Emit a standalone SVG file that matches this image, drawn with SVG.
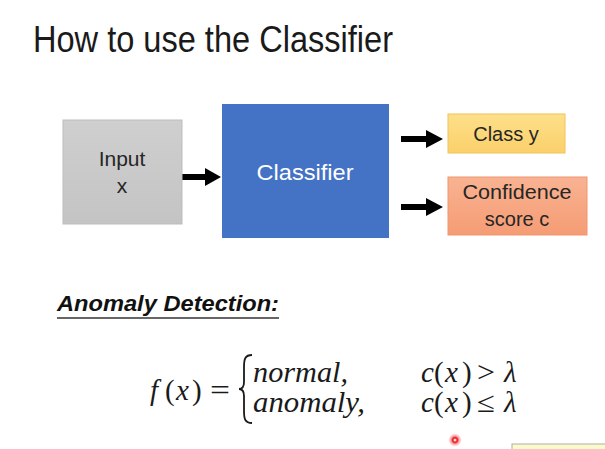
<svg xmlns="http://www.w3.org/2000/svg" width="605" height="449" viewBox="0 0 605 449">
<defs>
<style>
.t{font-family:"Liberation Sans",Arial,sans-serif;}
.m{font-family:"Liberation Serif","DejaVu Serif",serif;font-style:italic;font-size:29px;fill:#1a1a1a;}
.mu{font-family:"Liberation Serif","DejaVu Serif",serif;font-size:29px;fill:#1a1a1a;}
.arr{fill:#000;}
</style>
<linearGradient id="gGray" x1="0" y1="0" x2="0" y2="1">
<stop offset="0" stop-color="#cfcfcf"/><stop offset="1" stop-color="#c4c4c4"/>
</linearGradient>
<linearGradient id="gYel" x1="0" y1="0" x2="0" y2="1">
<stop offset="0" stop-color="#fde08a"/><stop offset="1" stop-color="#fbd06a"/>
</linearGradient>
<linearGradient id="gOr" x1="0" y1="0" x2="0" y2="1">
<stop offset="0" stop-color="#f9b392"/><stop offset="1" stop-color="#f59c74"/>
</linearGradient>
<radialGradient id="gDot">
<stop offset="0.35" stop-color="#e8202a"/><stop offset="0.6" stop-color="#f06a6a" stop-opacity="0.6"/><stop offset="1" stop-color="#ff9999" stop-opacity="0"/>
</radialGradient>
</defs>
<rect width="605" height="449" fill="#ffffff"/>

<text class="t" x="33" y="52" font-size="36" fill="#1a1a1a" textLength="360" lengthAdjust="spacingAndGlyphs">How to use the Classifier</text>

<g id="connectors">
<path class="arr" d="M182,174 L205,174 L205,168 L221,177 L205,186 L205,180 L182,180 Z"/>
<path class="arr" d="M401,136 L426,136 L426,130 L443,139 L426,148 L426,142 L401,142 Z"/>
<path class="arr" d="M401,204 L426,204 L426,198 L443,207 L426,216 L426,210 L401,210 Z"/>
</g>

<g id="input">
<rect x="63" y="120" width="119" height="104" fill="url(#gGray)" stroke="#bdbdbd" stroke-width="1"/>
<text class="t" x="122" y="166" font-size="21" fill="#262626" text-anchor="middle">Input</text>
<text class="t" x="122" y="193" font-size="21" fill="#262626" text-anchor="middle">x</text>
</g>

<g id="classifier">
<rect x="222" y="104" width="167" height="134" fill="#4472c4"/>
<text class="t" x="305" y="180" font-size="22" fill="#ffffff" text-anchor="middle" textLength="97" lengthAdjust="spacingAndGlyphs">Classifier</text>
</g>

<g id="classy">
<rect x="448" y="114" width="117" height="39" fill="url(#gYel)" stroke="#f2c25c" stroke-width="1"/>
<text class="t" x="506" y="141" font-size="20" fill="#262626" text-anchor="middle">Class y</text>
</g>

<g id="confidence">
<rect x="448" y="177" width="139" height="58" fill="url(#gOr)" stroke="#ef9670" stroke-width="1"/>
<text class="t" x="517" y="199" font-size="20" fill="#262626" text-anchor="middle" textLength="109" lengthAdjust="spacingAndGlyphs">Confidence</text>
<text class="t" x="517" y="226" font-size="20" fill="#262626" text-anchor="middle">score c</text>
</g>

<text class="t" x="57" y="311" font-size="22" font-weight="bold" font-style="italic" fill="#111" textLength="222" lengthAdjust="spacingAndGlyphs">Anomaly Detection:</text>
<line x1="57" y1="318" x2="279" y2="318" stroke="#333" stroke-width="1.5"/>

<g id="formula">
<text class="m" x="150" y="400">f</text>
<text class="mu" x="165" y="400">(</text>
<text class="m" x="176" y="400">x</text>
<text class="mu" x="192" y="400">)</text>
<text class="mu" x="210" y="400" textLength="20" lengthAdjust="spacingAndGlyphs">=</text>
<path d="M252,355 C245,355 244,359 244,367 L244,382 C244,387 242,389 239,389 C242,389 244,391 244,396 L244,411 C244,419 245,423 252,423" fill="none" stroke="#1a1a1a" stroke-width="1.8"/>
<text class="m" x="253" y="382" textLength="95" lengthAdjust="spacingAndGlyphs">normal,</text>
<text class="m" x="253" y="412" textLength="112" lengthAdjust="spacingAndGlyphs">anomaly,</text>
<text class="m" x="421" y="382">c</text>
<text class="mu" x="434" y="382">(</text>
<text class="m" x="445" y="382">x</text>
<text class="mu" x="462" y="382">)</text>
<text class="mu" x="477" y="382" textLength="18" lengthAdjust="spacingAndGlyphs">&gt;</text>
<text class="m" x="504" y="382">λ</text>
<text class="m" x="421" y="412">c</text>
<text class="mu" x="434" y="412">(</text>
<text class="m" x="445" y="412">x</text>
<text class="mu" x="462" y="412">)</text>
<text class="mu" x="477" y="412" textLength="18" lengthAdjust="spacingAndGlyphs">≤</text>
<text class="m" x="504" y="412">λ</text>
</g>

<circle cx="455" cy="440" r="7" fill="url(#gDot)"/>
<circle cx="455" cy="440" r="1.5" fill="#ffd0d0"/>
<rect x="512" y="444" width="100" height="10" fill="#fbfacc" stroke="#b0b0a0" stroke-width="1"/>
</svg>
